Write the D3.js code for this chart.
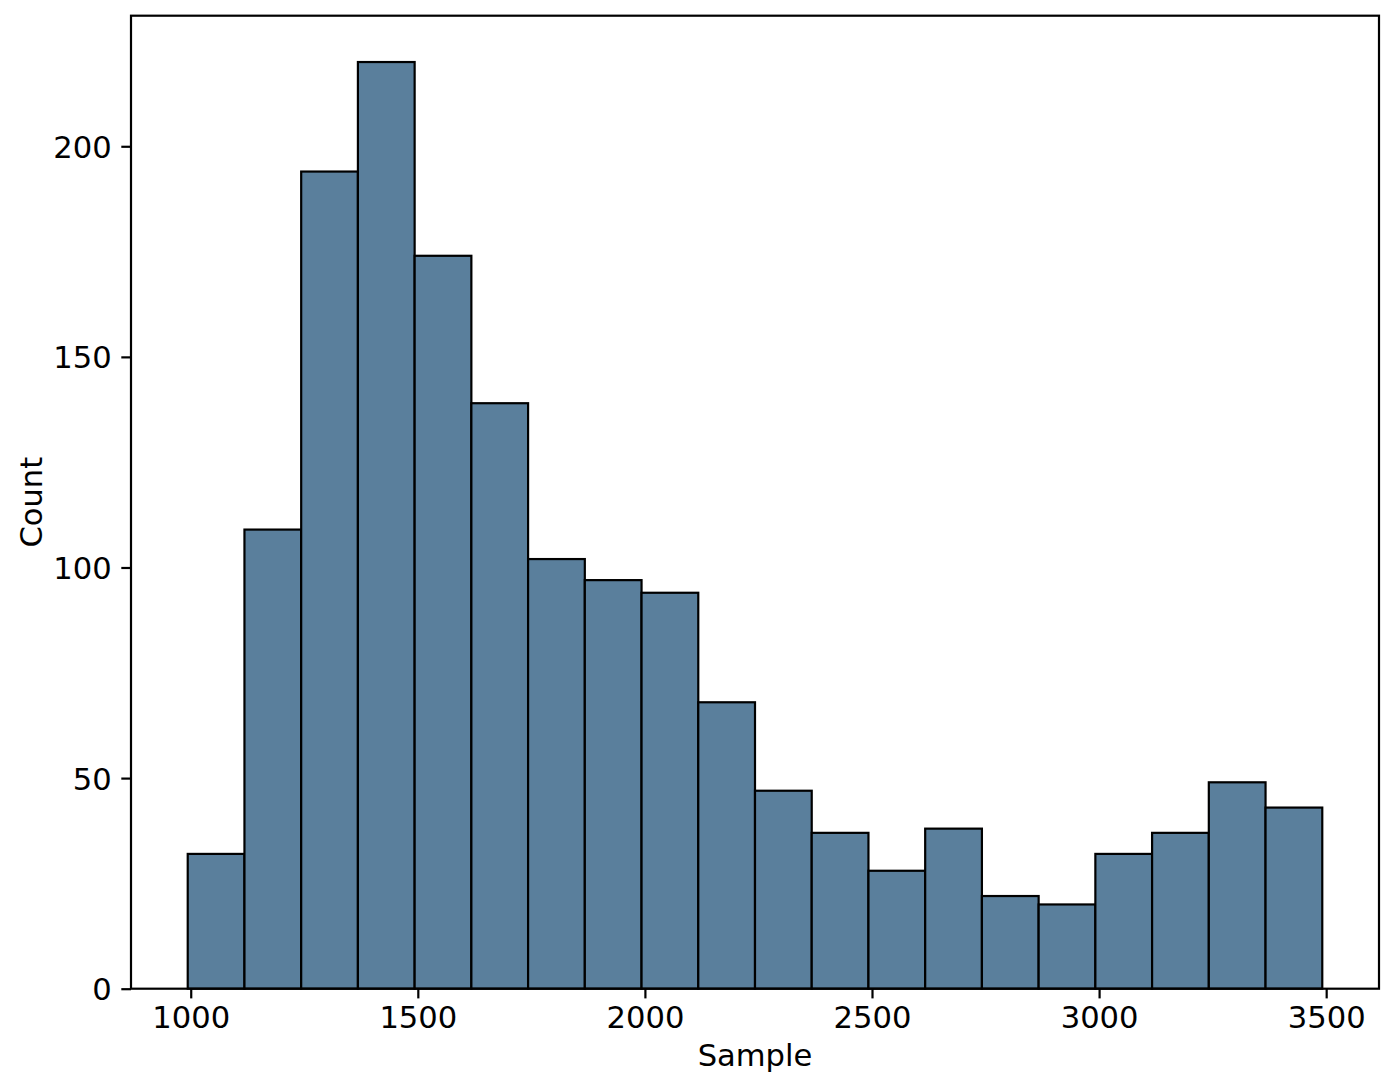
<!DOCTYPE html>
<html>
<head>
<meta charset="utf-8">
<script src="https://cdn.jsdelivr.net/npm/d3@7"></script>
<style>
  html, body { margin: 0; padding: 0; background: #ffffff; }
  svg { display: block; }
  text { font-family: "DejaVu Sans", sans-serif; fill: #000; }
</style>
</head>
<body>
<svg id="chart" width="1394" height="1091"></svg>
<script>
// Histogram bin edges (Sample values)
const binEdges = [993.4, 1118.3, 1243.2, 1368.1, 1493.0, 1617.9, 1742.8, 1867.7, 1992.6, 2117.5,
                  2242.4, 2367.3, 2492.2, 2617.1, 2742.0, 2866.9, 2991.8, 3116.7, 3241.6, 3366.5, 3491.4];
// Count per bin
const counts = [32, 109, 194, 220, 174, 139, 102, 97, 94, 68, 47, 37, 28, 38, 22, 20, 32, 37, 49, 43];
const xTicks = [1000, 1500, 2000, 2500, 3000, 3500];
const yTicks = [0, 50, 100, 150, 200];
const xLabel = "Sample";
const yLabel = "Count";

(function () {
const svg = d3.select("#chart");
const pl = 131, pr = 1379, pt = 15.7, pb = 988.7;

const xMin = binEdges[0], xMax = binEdges[binEdges.length - 1];
const xPad = (xMax - xMin) * 0.05;
const x = d3.scaleLinear().domain([xMin - xPad, xMax + xPad]).range([pl, pr]);
const y = d3.scaleLinear().domain([0, d3.max(counts) * 1.05]).range([pb, pt]);

const bins = counts.map((c, i) => ({ x0: binEdges[i], x1: binEdges[i + 1], c }));

svg.append("g").selectAll("rect").data(bins).join("rect")
  .attr("x", d => x(d.x0))
  .attr("y", d => y(d.c))
  .attr("width", d => x(d.x1) - x(d.x0))
  .attr("height", d => y(0) - y(d.c))
  .attr("fill", "#5a7f9c")
  .attr("stroke", "#000")
  .attr("stroke-width", 2.2);

const fs = 30.6;
const xAxis = svg.append("g").attr("transform", `translate(0,${pb})`)
  .call(d3.axisBottom(x).tickValues(xTicks).tickFormat(d3.format("d")).tickSize(9.7).tickPadding(7.6));
const yAxis = svg.append("g").attr("transform", `translate(${pl},0)`)
  .call(d3.axisLeft(y).tickValues(yTicks).tickFormat(d3.format("d")).tickSize(9.7).tickPadding(9.7));

[xAxis, yAxis].forEach(g => {
  g.select(".domain").remove();
  g.selectAll(".tick line").attr("stroke", "#000").attr("stroke-width", 2.2);
  g.selectAll(".tick text").attr("font-size", fs).attr("font-family", "DejaVu Sans, sans-serif").attr("fill", "#000");
});
yAxis.selectAll(".tick text").attr("dy", "0.36em");

// Frame
svg.append("rect")
  .attr("x", pl).attr("y", pt)
  .attr("width", pr - pl).attr("height", pb - pt)
  .attr("fill", "none").attr("stroke", "#000").attr("stroke-width", 2.2);

svg.append("text")
  .attr("x", (pl + pr) / 2).attr("y", 1066)
  .attr("text-anchor", "middle").attr("font-size", fs)
  .text(xLabel);

svg.append("text")
  .attr("transform", `translate(41.5,${(pt + pb) / 2}) rotate(-90)`)
  .attr("text-anchor", "middle").attr("font-size", fs)
  .text(yLabel);
})();
</script>
</body>
</html>
